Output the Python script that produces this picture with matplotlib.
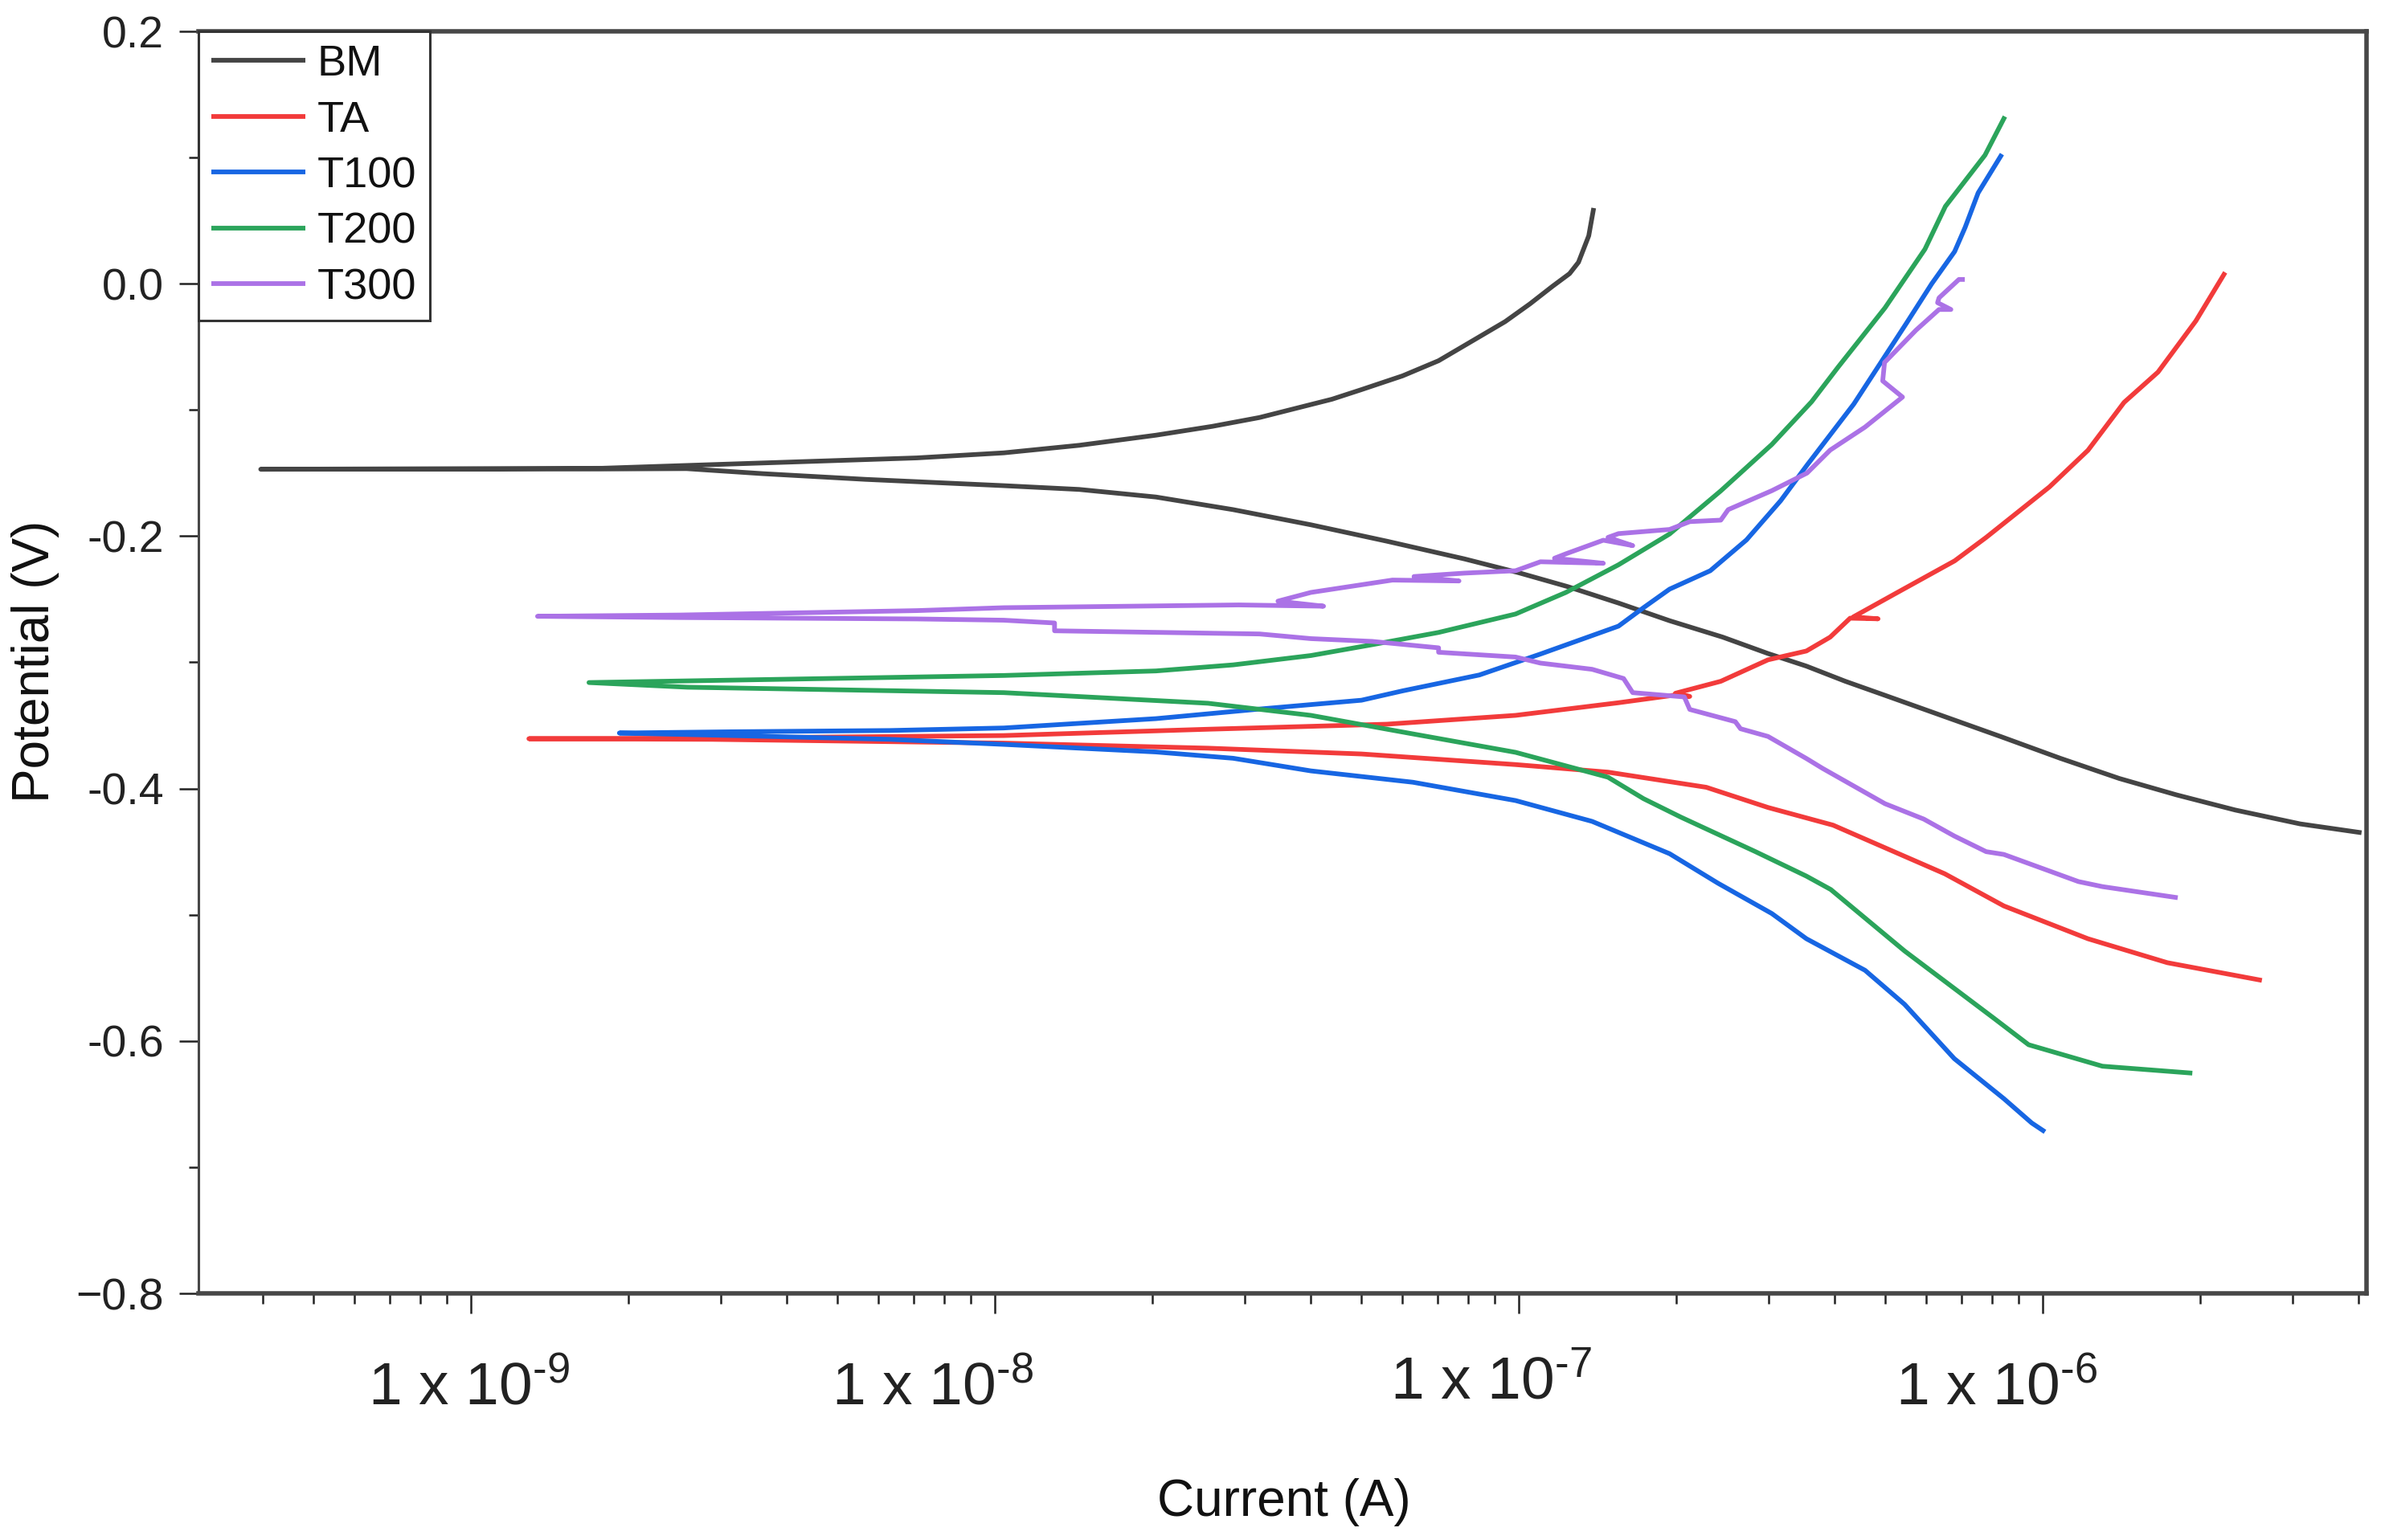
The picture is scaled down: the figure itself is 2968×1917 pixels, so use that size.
"""Polarization curves (potential vs. current) for BM, TA, T100, T200, T300."""

import matplotlib

matplotlib.use("Agg")
import matplotlib.pyplot as plt
from matplotlib.ticker import FixedLocator, FixedFormatter, LogLocator, MultipleLocator, NullFormatter
from matplotlib.transforms import ScaledTranslation

# ---- data (current in A, potential in V) ----
# each curve runs cathodic end -> corrosion potential tip -> anodic end
bm_current = [4.06e-6, 3.10e-6, 2.33e-6, 1.80e-6, 1.40e-6, 1.08e-6, 8.34e-7, 6.40e-7, 4.99e-7,
              4.20e-7, 3.54e-7, 2.99e-7, 2.45e-7, 1.94e-7, 1.55e-7, 1.24e-7, 1.00e-7, 7.87e-8,
              5.60e-8, 4.01e-8, 2.85e-8, 2.03e-8, 1.45e-8, 1.04e-8, 5.66e-9, 3.61e-9, 2.58e-9,
              1.75e-9, 3.97e-10,
              1.78e-9, 3.61e-9, 7.10e-9, 1.04e-8, 1.45e-8, 2.03e-8, 2.60e-8, 3.20e-8, 4.40e-8,
              5.00e-8, 6.00e-8, 7.03e-8, 8.10e-8, 9.42e-8, 1.05e-7, 1.16e-7, 1.25e-7, 1.30e-7,
              1.36e-7, 1.39e-7]
bm_potential = [-0.435, -0.428, -0.417, -0.405, -0.392, -0.376, -0.359, -0.342, -0.326,
                -0.315, -0.303, -0.293, -0.280, -0.267, -0.253, -0.240, -0.229, -0.218,
                -0.204, -0.191, -0.179, -0.169, -0.163, -0.160, -0.155, -0.1505, -0.1465,
                -0.1468, -0.147,
                -0.1462, -0.142, -0.138, -0.134, -0.128, -0.120, -0.113, -0.106, -0.0915,
                -0.084, -0.073, -0.061, -0.046, -0.030, -0.016, -0.002, 0.008, 0.017,
                0.038, 0.060]

ta_current = [2.62e-6, 1.73e-6, 1.22e-6, 8.43e-7, 6.50e-7, 3.98e-7, 2.99e-7, 2.28e-7, 1.48e-7,
              9.86e-8, 5.01e-8, 2.55e-8, 1.04e-8, 2.88e-9, 1.29e-9, 2.88e-9, 1.04e-8, 2.55e-8,
              5.60e-8, 9.86e-8, 1.55e-7, 1.98e-7, 2.12e-7, 1.99e-7, 2.43e-7, 2.99e-7, 3.54e-7,
              3.93e-7, 4.29e-7, 4.85e-7, 4.35e-7, 5.26e-7, 6.79e-7, 7.80e-7, 1.03e-6, 1.22e-6,
              1.43e-6, 1.66e-6, 1.96e-6, 2.23e-6]
ta_potential = [-0.552, -0.538, -0.519, -0.493, -0.4675, -0.429, -0.415, -0.399, -0.387,
                -0.381, -0.3726, -0.368, -0.364, -0.361, -0.3605, -0.360, -0.358, -0.353,
                -0.349, -0.342, -0.332, -0.326, -0.327, -0.3245, -0.315, -0.298, -0.291,
                -0.280, -0.265, -0.2655, -0.264, -0.245, -0.2196, -0.201, -0.161, -0.132,
                -0.094, -0.070, -0.0295, 0.009]

t100_current = [1.01e-6, 9.53e-7, 8.43e-7, 6.78e-7, 5.45e-7, 4.58e-7, 3.54e-7, 3.04e-7, 2.40e-7,
                1.94e-7, 1.38e-7, 9.86e-8, 6.28e-8, 4.01e-8, 2.85e-8, 2.03e-8, 1.04e-8, 6.31e-9,
                3.16e-9, 1.92e-9, 3.16e-9, 6.31e-9, 1.04e-8, 2.03e-8, 3.20e-8, 5.01e-8, 6.00e-8,
                8.41e-8, 1.10e-7, 1.55e-7, 1.73e-7, 1.94e-7, 2.32e-7, 2.72e-7, 3.16e-7, 3.55e-7,
                4.36e-7, 5.50e-7, 6.14e-7, 6.79e-7, 7.11e-7, 7.53e-7, 8.36e-7]
t100_potential = [-0.672, -0.665, -0.6457, -0.614, -0.571, -0.544, -0.519, -0.499, -0.475,
                  -0.4516, -0.426, -0.4095, -0.395, -0.386, -0.376, -0.371, -0.365, -0.361,
                  -0.358, -0.356, -0.355, -0.354, -0.352, -0.3446, -0.337, -0.330, -0.3226,
                  -0.310, -0.2934, -0.2713, -0.2567, -0.242, -0.2274, -0.203, -0.172, -0.1437,
                  -0.0953, -0.031, 0.0, 0.0255, 0.0446, 0.072, 0.1027]

t200_current = [1.93e-6, 1.30e-6, 9.40e-7, 8.07e-7, 5.45e-7, 3.94e-7, 3.54e-7, 2.83e-7, 2.04e-7,
                1.73e-7, 1.48e-7, 9.86e-8, 6.28e-8, 4.01e-8, 2.55e-8, 1.04e-8, 2.59e-9, 1.68e-9,
                5.66e-9, 1.04e-8, 2.03e-8, 2.85e-8, 4.01e-8, 5.25e-8, 7.03e-8, 9.86e-8, 1.23e-7,
                1.55e-7, 1.94e-7, 2.43e-7, 3.04e-7, 3.62e-7, 4.07e-7, 5.00e-7, 5.96e-7, 6.52e-7,
                7.76e-7, 8.47e-7]
t200_potential = [-0.6255, -0.620, -0.603, -0.582, -0.5287, -0.480, -0.4694, -0.450, -0.4227,
                  -0.408, -0.391, -0.3713, -0.3567, -0.342, -0.3324, -0.324, -0.3197, -0.316,
                  -0.3123, -0.3104, -0.3068, -0.302, -0.2946, -0.286, -0.2763, -0.2617, -0.2446,
                  -0.2227, -0.1983, -0.1641, -0.1274, -0.0936, -0.066, -0.0191, 0.0274, 0.0613,
                  0.1019, 0.1325]

t300_current = [1.81e-6, 1.30e-6, 1.17e-6, 8.43e-7, 7.80e-7, 6.78e-7, 5.93e-7, 5.00e-7, 3.80e-7,
                3.54e-7, 2.99e-7, 2.65e-7, 2.59e-7, 2.12e-7, 2.07e-7, 1.65e-7, 1.585e-7, 1.38e-7,
                1.10e-7, 9.86e-8, 7.03e-8, 7.03e-8, 5.25e-8, 4.01e-8, 3.20e-8, 1.30e-8, 1.30e-8,
                1.04e-8, 7.10e-9, 2.51e-9, 1.34e-9,
                2.51e-9, 7.10e-9, 1.04e-8, 2.92e-8, 4.24e-8, 3.47e-8, 4.01e-8, 5.74e-8, 7.69e-8,
                6.31e-8, 7.87e-8, 9.86e-8, 1.10e-7, 1.45e-7, 1.17e-7, 1.23e-7, 1.45e-7, 1.65e-7,
                1.48e-7, 1.55e-7, 1.94e-7, 2.12e-7, 2.43e-7, 2.51e-7, 3.04e-7, 3.55e-7, 3.93e-7,
                4.58e-7, 5.40e-7, 4.95e-7, 4.99e-7, 5.73e-7, 6.34e-7, 6.68e-7, 6.30e-7, 6.34e-7,
                6.92e-7, 7.10e-7]
t300_potential = [-0.4865, -0.4777, -0.4737, -0.4522, -0.450, -0.4376, -0.4242, -0.412, -0.384,
                  -0.3762, -0.3587, -0.3526, -0.347, -0.3373, -0.3274, -0.324, -0.3128, -0.3055,
                  -0.3006, -0.2958, -0.292, -0.2885, -0.2834, -0.2812, -0.2775, -0.275, -0.2688,
                  -0.2666, -0.2656, -0.2645, -0.2635,
                  -0.2625, -0.259, -0.2567, -0.2545, -0.2555, -0.2515, -0.2446, -0.2348, -0.2355,
                  -0.232, -0.2293, -0.2274, -0.2203, -0.2215, -0.2175, -0.214, -0.2032, -0.2075,
                  -0.201, -0.198, -0.1947, -0.1885, -0.1873, -0.179, -0.164, -0.150, -0.1318,
                  -0.1136, -0.0898, -0.077, -0.0624, -0.0368, -0.0204, -0.0204, -0.015, -0.0112,
                  0.0034, 0.0034]

series_labels = ["BM", "TA", "T100", "T200", "T300"]
series_colors = ["#444444", "#f23b3b", "#1766e3", "#2ba45b", "#ab72e6"]

x_ticks = [1e-9, 1e-8, 1e-7, 1e-6]
x_tick_labels = [r"1 x 10$^{\text{-}9}$", r"1 x 10$^{\text{-}8}$",
                 r"1 x 10$^{\text{-}7}$", r"1 x 10$^{\text{-}6}$"]
y_ticks = [-0.8, -0.6, -0.4, -0.2, 0.0, 0.2]
y_tick_labels = ["\u22120.8", "-0.6", "-0.4", "-0.2", "0.0", "0.2"]

# ---- style ----
plt.rcParams["font.family"] = ["Liberation Sans", "DejaVu Sans"]
plt.rcParams["mathtext.fontset"] = "custom"
plt.rcParams["mathtext.rm"] = "Liberation Sans"
plt.rcParams["mathtext.it"] = "Liberation Sans:italic"
plt.rcParams["mathtext.bf"] = "Liberation Sans:bold"
plt.rcParams["text.color"] = "#111111"

W, H = 2968, 1917
fig = plt.figure(figsize=(W / 100, H / 100), dpi=100)
ax = fig.add_axes([247 / W, (H - 1610) / H, (2945 - 247) / W, (1610 - 39) / H])

curves = [
    (bm_current, bm_potential),
    (ta_current, ta_potential),
    (t100_current, t100_potential),
    (t200_current, t200_potential),
    (t300_current, t300_potential),
]
for (cur, pot), lab, col in zip(curves, series_labels, series_colors):
    ax.plot(cur, pot, color=col, lw=4.2, label=lab, solid_joinstyle="round", solid_capstyle="butt")

ax.set_xscale("log")
ax.set_xlim(3.02e-10, 4.15e-6)
ax.set_ylim(-0.8, 0.2)

ax.xaxis.set_major_locator(FixedLocator(x_ticks))
ax.xaxis.set_major_formatter(FixedFormatter(x_tick_labels))
ax.xaxis.set_minor_locator(LogLocator(base=10, subs=range(2, 10), numticks=30))
ax.xaxis.set_minor_formatter(NullFormatter())
ax.yaxis.set_major_locator(FixedLocator(y_ticks))
ax.yaxis.set_major_formatter(FixedFormatter(y_tick_labels))
ax.yaxis.set_minor_locator(MultipleLocator(0.1))

ax.tick_params(axis="x", which="major", direction="out", length=18, width=1.8,
               labelsize=54, pad=42, colors="#222222")
ax.tick_params(axis="x", which="minor", direction="out", length=9.4, width=1.8, colors="#222222")
ax.tick_params(axis="y", which="major", direction="out", length=17, width=1.8,
               labelsize=40, pad=14, colors="#222222")
ax.tick_params(axis="y", which="minor", direction="out", length=8.6, width=1.8, colors="#222222")
ax.tick_params(top=False, right=False, which="both")

for name, sp in ax.spines.items():
    sp.set_color("#474747")
    sp.set_linewidth(2.2 if name == "left" else 4.0)

# the exported tick labels sit a little off their ticks in the original
label_shift_px = [(-2, 0), (-77, 0), (-34, 7), (-57, 0)]
for tl, (dx, dy) in zip(ax.xaxis.get_majorticklabels(), label_shift_px):
    tl.set_transform(tl.get_transform() + ScaledTranslation(dx / 100, dy / 100, fig.dpi_scale_trans))

leg = ax.legend(loc="upper left", bbox_to_anchor=(0, 1), borderaxespad=0, fontsize=39,
                handlelength=2.15, handletextpad=0.28, borderpad=0.3, labelspacing=0.36,
                fancybox=False, framealpha=1, edgecolor="#333333")
leg.get_frame().set_linewidth(2.2)

fig.text(1598 / W, 1 - 1887 / H, "Current (A)", ha="center", va="baseline", fontsize=46)
fig.text(44 / W, 1 - 823 / H, "Potential (V)", rotation=90, ha="center", va="center", fontsize=46)

fig.savefig("out.png", dpi=100)
plt.close(fig)
